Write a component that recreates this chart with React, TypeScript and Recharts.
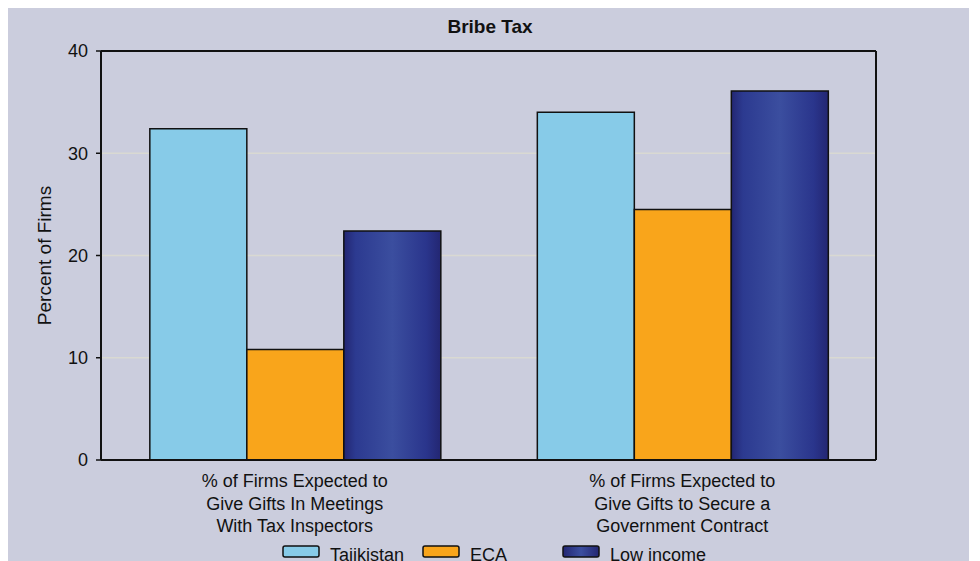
import React from 'react';
import { BarChart, Bar, XAxis, YAxis, CartesianGrid, Legend, ReferenceLine } from 'recharts';

const categories = ['gifts_tax', 'gifts_contract'];
const categoryLines = [
  ['% of Firms Expected to', 'Give Gifts In Meetings', 'With Tax Inspectors'],
  ['% of Firms Expected to', 'Give Gifts to Secure a', 'Government Contract'],
];
const tajikistan = [32.4, 34.0];
const eca = [10.8, 24.5];
const lowIncome = [22.4, 36.1];
const yTicks = [0, 10, 20, 30, 40];
const seriesNames = ['Tajikistan', 'ECA', 'Low income'];

const data = categories.map((c, i) => ({
  cat: c,
  tajikistan: tajikistan[i],
  eca: eca[i],
  low: lowIncome[i],
}));

const FONT = '"Liberation Sans", Arial, sans-serif';
const BG = '#cbcddd';

const XTick = (props: any) => {
  const { x, y, payload } = props;
  const idx = categories.indexOf(payload.value);
  const lines = categoryLines[idx] || [];
  return (
    <g>
      {lines.map((l, i) => (
        <text key={i} x={x} y={y + 19 + i * 22.5} textAnchor="middle" fontFamily={FONT} fontSize={18} fill="#111">
          {l}
        </text>
      ))}
    </g>
  );
};

const legendFills = ['#87cbe8', '#f9a51b', 'url(#lowGradL)'];
const legendX = [275, 415, 555];

const LegendContent = () => (
  <svg width={961} height={553} style={{ position: 'absolute', left: 0, top: 0, overflow: 'visible' }}>
    <defs>
      <linearGradient id="lowGradL" x1="0" x2="1" y1="0" y2="0">
        <stop offset="0" stopColor="#232672" />
        <stop offset="0.5" stopColor="#3b4e9f" />
        <stop offset="1" stopColor="#232672" />
      </linearGradient>
    </defs>
    {seriesNames.map((n, i) => (
      <g key={n}>
        <rect x={legendX[i]} y={538} width={36} height={11} rx={2} fill={legendFills[i]} stroke="#111" strokeWidth={1.5} />
        <text x={legendX[i] + 47} y={553} fontFamily={FONT} fontSize={18} fill="#111">{n}</text>
      </g>
    ))}
  </svg>
);

export default function App() {
  return (
    <div style={{ width: 961, height: 553, background: BG, position: 'relative' }}>
      <BarChart
        width={961}
        height={553}
        data={data}
        margin={{ top: 43, right: 92, bottom: 0, left: 0 }}
        barCategoryGap="12.6%"
        barGap={0}
        style={{ background: BG }}
      >
        <defs>
          <linearGradient id="lowGrad" x1="0" x2="1" y1="0" y2="0">
            <stop offset="0" stopColor="#232672" />
            <stop offset="0.12" stopColor="#2c3a90" />
            <stop offset="0.5" stopColor="#3b4e9f" />
            <stop offset="0.85" stopColor="#2a358c" />
            <stop offset="1" stopColor="#232672" />
          </linearGradient>
        </defs>
        <text x={482} y={25} textAnchor="middle" fontFamily={FONT} fontSize={19} fontWeight="bold" fill="#111">
          Bribe Tax
        </text>
        <CartesianGrid vertical={false} stroke="#d9d9d2" strokeWidth={1.5} />
        <XAxis
          dataKey="cat"
          height={101}
          tick={<XTick />}
          tickLine={false}
          axisLine={{ stroke: '#111', strokeWidth: 2 }}
          interval={0}
        />
        <YAxis
          domain={[0, 40]}
          ticks={yTicks}
          width={93}
          tickSize={5}
          tickMargin={8}
          tick={{ fontFamily: FONT, fontSize: 18, fill: '#111' }}
          tickLine={{ stroke: '#111', strokeWidth: 1.5 }}
          axisLine={{ stroke: '#111', strokeWidth: 2 }}
          label={{ value: 'Percent of Firms', angle: -90, position: 'center', dx: -10, fontFamily: FONT, fontSize: 19, fill: '#111' }}
        />
        <YAxis
          yAxisId="right"
          orientation="right"
          domain={[0, 40]}
          ticks={yTicks}
          width={1}
          tick={false}
          tickLine={false}
          axisLine={{ stroke: '#111', strokeWidth: 2 }}
        />
        <ReferenceLine y={40} stroke="#111" strokeWidth={2} />
        <Legend
          layout="horizontal"
          verticalAlign="middle"
          align="center"
          content={<LegendContent />}
          wrapperStyle={{ position: 'absolute', left: 0, top: 0, width: 961, height: 553, pointerEvents: 'none' }}
        />
        <Bar dataKey="tajikistan" name="Tajikistan" fill="#87cbe8" stroke="#111" strokeWidth={1.5} isAnimationActive={false} />
        <Bar dataKey="eca" name="ECA" fill="#f9a51b" stroke="#111" strokeWidth={1.5} isAnimationActive={false} />
        <Bar dataKey="low" name="Low income" fill="url(#lowGrad)" stroke="#111" strokeWidth={1.5} isAnimationActive={false} />
      </BarChart>
    </div>
  );
}
